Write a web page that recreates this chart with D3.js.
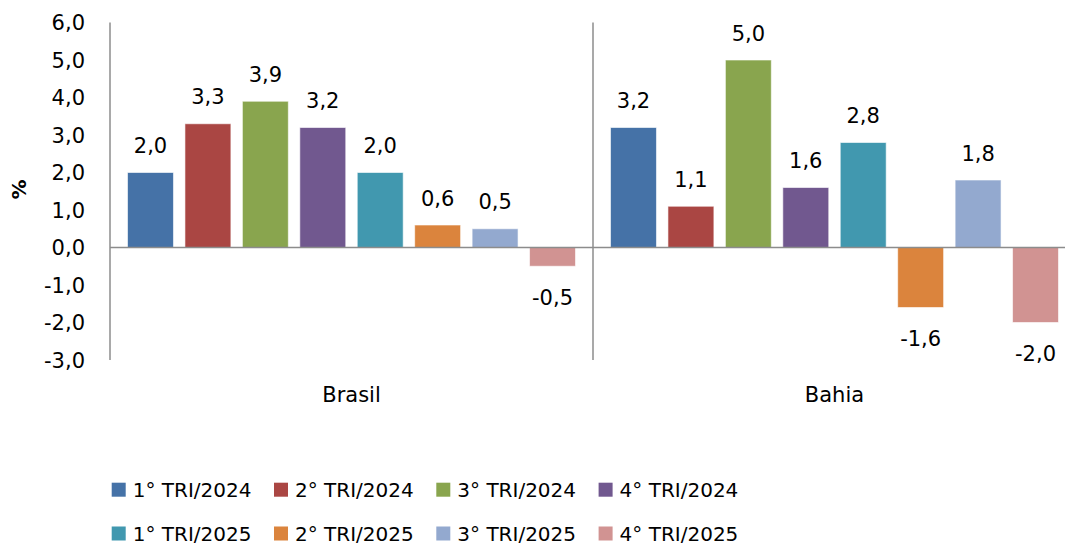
<!DOCTYPE html>
<html lang="pt-BR">
<head>
  <meta charset="UTF-8">
  <title>Variação trimestral - Brasil e Bahia</title>
  <style>
    body { margin: 0; background: #fff; }
    svg { display: block; }
    text { font-family: "DejaVu Sans", sans-serif; fill: #000; }
  </style>
</head>
<body>
  <svg width="1065" height="546"></svg>
  <script src="https://d3js.org/d3.v7.min.js"></script>
  <script>
    // dados
    const regions = ["Brasil", "Bahia"];
    const quarters = ["1° TRI/2024", "2° TRI/2024", "3° TRI/2024", "4° TRI/2024",
                      "1° TRI/2025", "2° TRI/2025", "3° TRI/2025", "4° TRI/2025"];
    const brasil = [2.0, 3.3, 3.9, 3.2, 2.0, 0.6, 0.5, -0.5];
    const bahia = [3.2, 1.1, 5.0, 1.6, 2.8, -1.6, 1.8, -2.0];
    const yTicks = [-3, -2, -1, 0, 1, 2, 3, 4, 5, 6];
    const colors = ["#4572A7", "#AA4643", "#89A54E", "#71588F",
                    "#4198AF", "#DB843D", "#93A9CF", "#D19392"];

    const series = { Brasil: brasil, Bahia: bahia };

    const svg = d3.select("svg");
    const plotLeft = 110, plotRight = 1076, plotTop = 22.5, plotBottom = 360;

    const y = d3.scaleLinear().domain([-3, 6]).range([plotBottom, plotTop]);
    const x0 = d3.scaleBand().domain(regions).range([plotLeft, plotRight]);
    const x1 = d3.scaleBand().domain(quarters).range([0, x0.bandwidth()])
      .paddingInner(0.2).paddingOuter(0.305);
    const color = d3.scaleOrdinal().domain(quarters).range(colors);
    const fmt = v => d3.format(".1f")(v).replace(".", ",").replace("−", "-");

    // eixo y (só rótulos)
    svg.append("g").selectAll("text")
      .data(yTicks)
      .enter().append("text")
      .attr("x", 85)
      .attr("y", d => y(d))
      .attr("dy", "0.36em")
      .attr("text-anchor", "end")
      .style("font-size", "21px")
      .text(d => fmt(d));

    svg.append("text")
      .attr("transform", "translate(26,189.5) rotate(-90)")
      .attr("text-anchor", "middle")
      .style("font-size", "20px")
      .style("font-weight", "bold")
      .text("%");

    // barras
    const groups = svg.append("g").selectAll("g")
      .data(regions)
      .enter().append("g")
      .attr("transform", d => `translate(${x0(d)},0)`);

    groups.selectAll("rect")
      .data(r => series[r].map((v, i) => ({ q: quarters[i], v: v })))
      .enter().append("rect")
      .attr("x", d => x1(d.q))
      .attr("width", x1.bandwidth())
      .attr("y", d => y(Math.max(0, d.v)))
      .attr("height", d => Math.abs(y(d.v) - y(0)))
      .attr("fill", d => color(d.q))
      .attr("stroke", "#fff")
      .attr("stroke-opacity", 0.6)
      .attr("stroke-width", 1);

    groups.selectAll("text.lbl")
      .data(r => series[r].map((v, i) => ({ q: quarters[i], v: v })))
      .enter().append("text")
      .attr("class", "lbl")
      .attr("x", d => x1(d.q) + x1.bandwidth() / 2)
      .attr("y", d => d.v >= 0 ? y(d.v) - 27 : y(d.v) + 31)
      .attr("dy", "0.36em")
      .attr("text-anchor", "middle")
      .style("font-size", "21px")
      .text(d => fmt(d.v));

    // linhas dos eixos
    svg.append("line")
      .attr("x1", plotLeft).attr("x2", plotRight)
      .attr("y1", y(0)).attr("y2", y(0))
      .attr("stroke", "#8c8c8c").attr("stroke-width", 1.5);
    svg.selectAll("line.sep")
      .data([plotLeft, x0("Bahia")])
      .enter().append("line")
      .attr("class", "sep")
      .attr("x1", d => d).attr("x2", d => d)
      .attr("y1", plotTop).attr("y2", plotBottom)
      .attr("stroke", "#8c8c8c").attr("stroke-width", 1.5);

    // rótulos das categorias
    svg.append("g").selectAll("text")
      .data(regions)
      .enter().append("text")
      .attr("x", d => x0(d) + x0.bandwidth() / 2)
      .attr("y", 394.7)
      .attr("dy", "0.36em")
      .attr("text-anchor", "middle")
      .style("font-size", "21px")
      .text(d => d);

    // legenda
    const legend = svg.append("g").selectAll("g")
      .data(quarters)
      .enter().append("g")
      .attr("transform", (d, i) => `translate(${111.7 + (i % 4) * 162.3},${i < 4 ? 489.7 : 533.5})`);
    legend.append("rect")
      .attr("x", 0).attr("y", -7)
      .attr("width", 14).attr("height", 14)
      .attr("fill", d => color(d));
    legend.append("text")
      .attr("x", 21)
      .attr("dy", "0.36em")
      .style("font-size", "20px")
      .text(d => d);
  </script>
</body>
</html>
